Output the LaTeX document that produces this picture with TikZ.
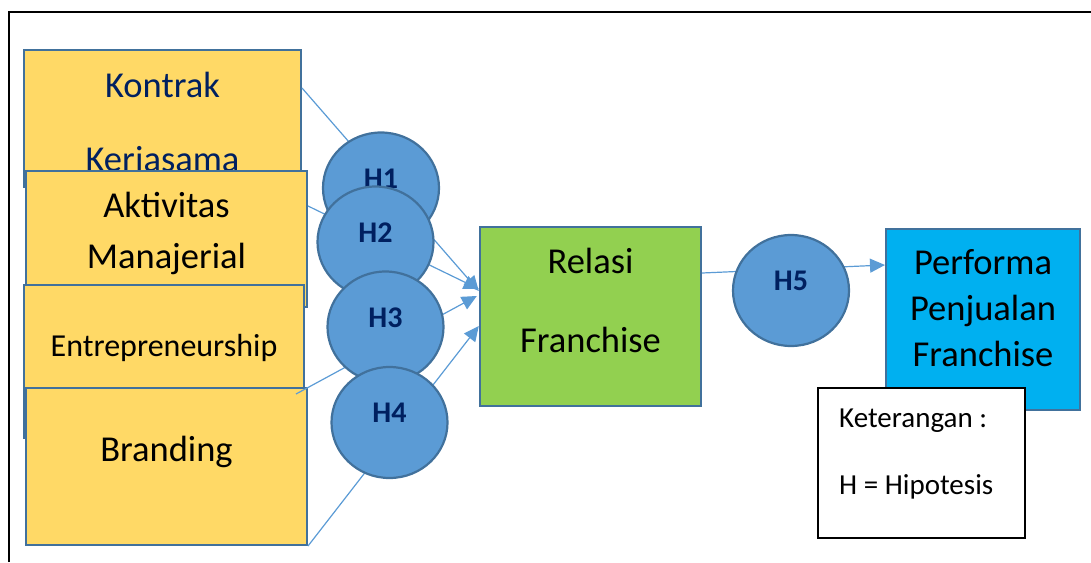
\documentclass[tikz,border=0pt]{standalone}
\usepackage{fontspec}
\setmainfont{Carlito}
\usepackage{tikz}
\usetikzlibrary{positioning, calc, arrows.meta, shapes.geometric}

\definecolor{kuning}{HTML}{FFD966}
\definecolor{garis}{HTML}{41719C}
\definecolor{bulat}{HTML}{5B9BD5}
\definecolor{hijau}{HTML}{92D050}
\definecolor{biru}{HTML}{00B0F0}
\definecolor{navy}{HTML}{002060}

\begin{document}
\begin{tikzpicture}[
    x=1pt, y=-1pt,
    >={Triangle[length=15pt, width=14pt]},
    faktor/.style={draw=garis, line width=2pt, fill=kuning, inner sep=0pt},
    teks/.style={inner sep=0pt, align=center, anchor=base, font=\fontsize{36.5}{44}\selectfont},
    hipo/.style={ellipse, draw=garis, line width=2.2pt, fill=bulat, inner sep=0pt,
        minimum width=116pt, minimum height=111pt, text=navy,
        font=\fontsize{30}{36}\selectfont\bfseries, text height=12pt, text depth=12pt},
    link/.style={draw=bulat, line width=1.2pt}
]
\useasboundingbox (0,0) rectangle (1091,562);

% 外框
\draw[line width=2pt] (9,562) -- (9,12) -- (1091,12);

% 变量框
\node[faktor, minimum width=277pt, minimum height=137pt] (kontrak) at (162.5,118.5) {};
\node[teks, text=navy, font=\fontsize{36.5}{74}\selectfont] (t-kontrak) at (162.5,171) {Kontrak\\Kerjasama};
\node[faktor, minimum width=281pt, minimum height=136pt] (aktivitas) at (166.5,239) {};
\node[teks, font=\fontsize{36.5}{51}\selectfont] (t-aktivitas) at (166.5,268) {Aktivitas\\Manajerial};
\node[faktor, minimum width=280pt, minimum height=153pt] (entre) at (164,361.5) {};
\node[teks, font=\fontsize{32}{38}\selectfont] (t-entre) at (164,356) {Entrepreneurship};
\node[faktor, minimum width=281pt, minimum height=157pt] (branding) at (166.5,466.5) {};
\node[teks] (t-branding) at (166.5,461.5) {Branding};

\node[faktor, fill=hijau, line width=2.4pt, minimum width=221pt, minimum height=179pt] (relasi) at (590.5,316.5) {};
\node[teks, font=\fontsize{36.5}{79.5}\selectfont] (t-relasi) at (590.5,352.7) {Relasi\\Franchise};

% 连线
\draw[link, ->] ($(kontrak.east)+(0,-30.5)$) -- ($(relasi.west)+(0,-25.5)$);
\draw[link, ->] ($(aktivitas.east)+(0,-33)$) -- ($(relasi.west)+(0,-27.5)$);
\draw[link, ->] ($(entre.south east)+(-9,-45)$) -- ($(relasi.west)+(-2,-20.5)$);
\draw[link, ->] (branding.south east) -- ($(relasi.west)+(0,9.5)$);

% 假设
\node[hipo] (h1) at (381,188) {H1};
\node[hipo] (h2) at (375.5,242) {H2};
\node[hipo] (h3) at (385.5,327) {H3};
\node[hipo] (h4) at (389.5,422.5) {H4};

% 右侧
\node[faktor, fill=biru, minimum width=194pt, minimum height=181pt] (performa) at (983,319.5) {};
\node[teks, font=\fontsize{36.5}{46}\selectfont] (t-performa) at (983,366.7) {Performa\\Penjualan\\Franchise};
\draw[link, ->] ($(relasi.east)+(0,-43.5)$) -- ($(performa.west)+(0,-54.5)$);
\node[hipo] (h5) at (791,290.5) {H5};

% 说明
\node[draw=black, line width=1.5pt, fill=white, minimum width=207pt, minimum height=150pt] (ket) at (921.5,463) {};
\node[teks, anchor=base west, align=left, font=\fontsize{29}{66.7}\selectfont] (t-ket) at (839,494) {Keterangan :\\H = Hipotesis};

\end{tikzpicture}
\end{document}
